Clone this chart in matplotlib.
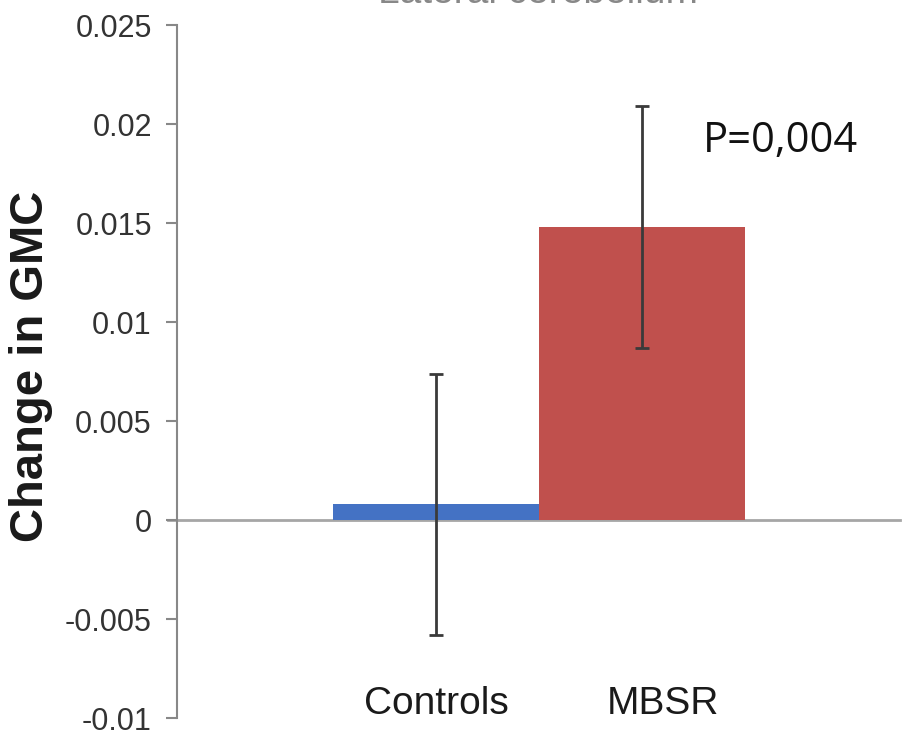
import numpy as np
import matplotlib
matplotlib.use("Agg")
import matplotlib.pyplot as plt

groups = ["Controls", "MBSR"]
change_gmc = [0.0008, 0.0148]
err = [0.0066, 0.0061]
bar_colors = ["#4472C4", "#C0504D"]
y_ticks = [-0.01, -0.005, 0, 0.005, 0.01, 0.015, 0.02, 0.025]
y_ticklabels = ["-0.01", "-0.005", "0", "0.005", "0.01", "0.015", "0.02", "0.025"]
p_label = "P=0,004"

plt.rcParams['font.family'] = ['Liberation Sans', 'DejaVu Sans']

fig = plt.figure(figsize=(9.02, 7.45), dpi=100)
ax = fig.add_axes([0.196, 0.0362, 0.802, 0.9302])

pos = np.arange(len(groups))
ax.bar(pos, change_gmc, width=1.0, color=bar_colors, zorder=2)
ax.errorbar(pos, change_gmc, yerr=err, fmt='none', ecolor="#3a3a3a",
            elinewidth=2, capsize=5, capthick=2, zorder=3)

# zero line like excel's category axis
ax.axhline(0, xmin=-0.012, xmax=1, color="#a6a6a6", lw=2, zorder=1, clip_on=False)

ax.set_xlim(-1.257, 2.252)
ax.set_ylim(-0.01, 0.025)
ax.set_yticks(y_ticks)
ax.set_yticklabels(y_ticklabels)
ax.tick_params(axis='y', length=8, width=1.5, color="#888888", labelsize=22,
               labelcolor="#333333", pad=10)
ax.set_xticks([])

for s in ["top", "right", "bottom"]:
    ax.spines[s].set_visible(False)
ax.spines["left"].set_color("#888888")
ax.spines["left"].set_linewidth(1.5)

# group names sit at the bottom of the plot
label_x = [0, 1.1]
for x, g in zip(label_x, groups):
    ax.text(x, -0.0093, g, ha='center', va='center', fontsize=28, color="#1a1a1a")

ax.set_ylabel("Change in GMC", fontsize=34, fontweight='bold', color="#1a1a1a", va='center')
ax.yaxis.set_label_coords(-0.202, 0.508)

ax.text(1.296, 0.0186, p_label, fontsize=30, family=['Open Sans', 'DejaVu Sans'],
        color="#111111", va='baseline', ha='left')

# title is cut off at the top of the image
fig.text(538 / 902, 1 - 3 / 745, "Lateral cerebellum", ha='center', va='baseline',
         fontsize=28, color="#888888")

fig.savefig("out.png", dpi=100, facecolor="white")
